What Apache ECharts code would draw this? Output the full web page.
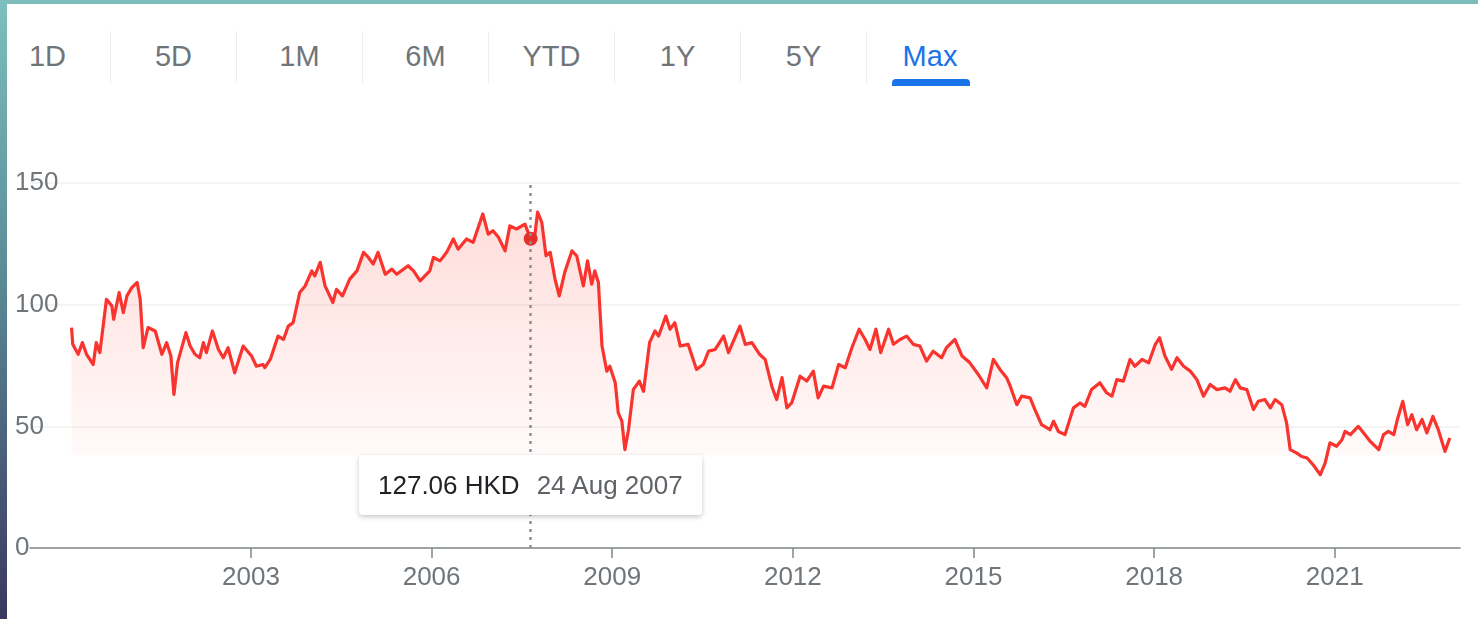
<!DOCTYPE html>
<html>
<head>
<meta charset="utf-8">
<script src="https://cdn.jsdelivr.net/npm/echarts@6/dist/echarts.min.js"></script>
<style>
    html, body {
        margin: 0;
        padding: 0;
        width: 1478px;
        height: 619px;
        overflow: hidden;
        font-family: Arial, "Liberation Sans", sans-serif;
    }
    body {
        background: linear-gradient(180deg, #7dbfbe 0%, #5a8a96 45%, #3b3760 100%);
        position: relative;
    }
    .topStrip {
        position: absolute;
        left: 0;
        top: 0;
        width: 1478px;
        height: 4px;
        background-color: #7dbdbc;
    }
    .panel {
        position: absolute;
        left: 7px;
        top: 4px;
        right: 0;
        bottom: 0;
        background-color: #ffffff;
    }
    .tabs {
        position: absolute;
        left: -22px;
        top: 27px;
        display: flex;
    }
    .tab {
        position: relative;
        width: 126px;
        height: 52px;
        line-height: 50px;
        text-align: center;
        font-size: 29px;
        color: #70757a;
        border-right: 1px solid #ededed;
        box-sizing: border-box;
    }
    .tab:last-child {
        border-right: none;
    }
    .tab.active {
        color: #1a73e8;
    }
    .tab.active::after {
        content: "";
        position: absolute;
        left: 25px;
        width: 78px;
        bottom: -3px;
        height: 7px;
        background-color: #1a73e8;
        border-radius: 4px 4px 0 0;
    }
    #chart {
        position: absolute;
        left: 0;
        top: 0;
        width: 1478px;
        height: 619px;
    }
</style>
</head>
<body>
<div class="topStrip"></div>
<div class="panel">
    <div class="tabs" id="tabs"></div>
</div>
<div id="chart"></div>

<script>
    // range buttons
    const ranges = ['1D', '5D', '1M', '6M', 'YTD', '1Y', '5Y', 'Max'];
    const activeRange = 'Max';

    // x labels (years) and y ticks
    const yearLabels = [2003, 2006, 2009, 2012, 2015, 2018, 2021];
    const priceTicks = [0, 50, 100, 150];

    // price history (decimal year, HKD)
    const years = [2000.02,2000.04,2000.13,2000.20,2000.27,2000.38,2000.43,2000.49,2000.60,2000.69,
        2000.72,2000.81,2000.88,2000.94,2001.02,2001.11,2001.16,2001.21,2001.29,2001.41,
        2001.52,2001.60,2001.67,2001.72,2001.78,2001.92,2001.99,2002.07,2002.15,2002.21,
        2002.26,2002.36,2002.46,2002.54,2002.62,2002.73,2002.87,2003.01,2003.09,2003.20,
        2003.23,2003.32,2003.45,2003.54,2003.62,2003.70,2003.81,2003.90,2004.01,2004.06,
        2004.15,2004.23,2004.36,2004.42,2004.52,2004.64,2004.76,2004.87,2004.95,2005.03,
        2005.11,2005.23,2005.34,2005.42,2005.61,2005.70,2005.81,2005.97,2006.03,2006.14,
        2006.25,2006.36,2006.44,2006.58,2006.69,2006.85,2006.94,2007.02,2007.11,2007.22,
        2007.30,2007.41,2007.55,2007.645,2007.71,2007.76,2007.83,2007.90,2007.97,2008.05,
        2008.12,2008.21,2008.33,2008.41,2008.52,2008.59,2008.66,2008.71,2008.77,2008.83,
        2008.91,2008.96,2009.05,2009.10,2009.16,2009.21,2009.27,2009.35,2009.45,2009.52,
        2009.62,2009.71,2009.77,2009.89,2009.96,2010.04,2010.13,2010.26,2010.40,2010.51,
        2010.60,2010.71,2010.85,2010.93,2011.12,2011.21,2011.32,2011.45,2011.54,2011.65,
        2011.73,2011.82,2011.90,2011.98,2012.12,2012.23,2012.34,2012.42,2012.51,2012.65,
        2012.76,2012.87,2012.98,2013.10,2013.20,2013.28,2013.38,2013.46,2013.59,2013.67,
        2013.78,2013.89,2014.00,2014.11,2014.22,2014.33,2014.47,2014.55,2014.69,2014.81,
        2014.94,2015.08,2015.22,2015.33,2015.44,2015.55,2015.61,2015.72,2015.80,2015.94,
        2016.02,2016.13,2016.27,2016.33,2016.41,2016.52,2016.66,2016.77,2016.85,2016.96,
        2017.10,2017.21,2017.30,2017.38,2017.49,2017.60,2017.68,2017.80,2017.91,2018.02,
        2018.09,2018.18,2018.29,2018.38,2018.49,2018.60,2018.71,2018.82,2018.93,2019.04,
        2019.18,2019.26,2019.35,2019.43,2019.54,2019.65,2019.73,2019.84,2019.93,2020.01,
        2020.12,2020.20,2020.26,2020.37,2020.45,2020.54,2020.64,2020.76,2020.84,2020.92,
        2021.03,2021.12,2021.17,2021.26,2021.39,2021.48,2021.59,2021.73,2021.81,2021.89,
        2021.98,2022.04,2022.13,2022.21,2022.28,2022.36,2022.45,2022.53,2022.63,2022.72,
        2022.83,2022.91];
    const prices = [90.6,83.7,79.6,84.4,79.6,75.4,84.4,80.3,102.2,99.5,
        94,105,96.7,103.6,107,109.1,102.2,82.3,90.6,89.2,
        79.6,84.4,78.9,63.1,76.1,88.5,83,79.6,78.2,84.4,
        80.3,89.2,81.6,78.2,82.3,72,83,78.9,74.7,75.4,
        74.1,77.5,87.1,85.7,91.2,92.6,105,107.7,113.9,111.8,
        117.4,107.7,100.9,106.3,103.6,110.5,113.9,121.5,119.4,116.7,
        121.5,112.5,114.6,112.5,116,113.9,109.8,113.9,119.4,118,
        121.5,127,122.8,127,125.6,137.3,129,130.4,127.7,122.1,
        132.4,131.1,133.1,127.06,127.7,138,133.8,120.1,121.5,110.5,
        103.6,113.2,122.1,120.1,107.7,118,108.4,113.9,109.1,83,
        72.7,74.7,67.9,55.5,52.1,40.4,48.6,65.1,68.6,64.4,
        84.4,89.2,87.1,95.3,89.9,92.6,83,83.7,73.4,75.4,
        80.9,81.6,87.1,80.3,91.2,83.7,84.4,79.5,77.5,66.5,
        61,70,57.6,59.6,70.6,68.6,72.7,61.7,66.5,65.8,
        75.4,74.1,82.3,89.9,85.7,81.6,89.9,80.3,89.9,83.7,
        85.7,87.1,83.7,83,76.8,80.9,78.2,82.3,85.7,78.9,
        76.1,71.3,65.8,77.5,73.4,70,66.5,58.9,62.4,61.7,
        56.9,50.7,48.6,52.1,47.9,46.6,57.6,59.6,58.2,65.1,
        67.9,63.8,62.4,69.2,68.6,77.5,74.7,77.5,76.1,83.7,
        86.4,78.9,73.4,78.2,74.7,72.7,69.2,62.4,67.2,65.1,
        65.8,64.4,69.2,65.8,65.1,56.9,60.3,61,57.6,61,
        58.9,51.4,40.4,39,37.6,37,34.2,30.1,34.9,43.2,
        41.8,44.5,47.9,46.6,50,47.3,43.8,40.4,46.6,47.9,
        46.6,52.8,60.3,50.7,54.8,48.6,52.8,47.3,54.1,48.6,
        39.7,45.2];

    // hovered point shown in the picture
    const hoverYear = 2007.645;
    const currency = 'HKD';
    const months = ['Jan','Feb','Mar','Apr','May','Jun','Jul','Aug','Sep','Oct','Nov','Dec'];

    const tabsEl = document.getElementById('tabs');
    ranges.forEach(r => {
        const d = document.createElement('div');
        d.className = 'tab' + (r === activeRange ? ' active' : '');
        d.textContent = r;
        tabsEl.appendChild(d);
    });

    const fmtDate = (yr) => {
        const y = Math.floor(yr);
        const dt = new Date(Date.UTC(y, 0, 1) + (yr - y) * 365 * 86400000);
        return dt.getUTCDate() + ' ' + months[dt.getUTCMonth()] + ' ' + dt.getUTCFullYear();
    };

    const seriesData = years.map((t, i) => [t, prices[i]]);
    const hoverIdx = years.indexOf(hoverYear);

    var dom = document.getElementById('chart');
    var myChart = echarts.init(dom, null, { renderer: 'canvas' });
    var option = {
        animation: false,
        backgroundColor: 'transparent',
        grid: {
            left: 30,
            right: 18,
            top: 183,
            bottom: 71
        },
        tooltip: {
            trigger: 'axis',
            alwaysShowContent: true,
            transitionDuration: 0,
            backgroundColor: '#ffffff',
            borderWidth: 0,
            borderRadius: 4,
            padding: [16, 19],
            extraCssText: 'box-shadow: 0 2px 5px rgba(0,0,0,0.22);',
            textStyle: {
                fontFamily: 'Arial',
                fontSize: 26,
                lineHeight: 28
            },
            axisPointer: {
                type: 'line',
                snap: true,
                label: { show: false },
                lineStyle: {
                    color: '#8d9196',
                    width: 2.5,
                    type: [3, 5]
                }
            },
            position: function (point, params, el, rect, size) {
                return [point[0] - size.contentSize[0] / 2, 455];
            },
            formatter: function (params) {
                const p = params[0];
                return '<span style="color:#202124">' + p.value[1].toFixed(2) + ' ' + currency + '</span>' +
                    '<span style="color:#5f6368;margin-left:17px">' + fmtDate(p.value[0]) + '</span>';
            }
        },
        xAxis: {
            type: 'value',
            min: 1999.33,
            max: 2023.08,
            splitLine: { show: false },
            axisLine: {
                show: true,
                lineStyle: { color: '#80868b', width: 1.5 }
            },
            axisTick: {
                show: true,
                length: 10,
                customValues: yearLabels,
                lineStyle: { color: '#80868b', width: 1.5 }
            },
            axisLabel: {
                customValues: yearLabels,
                margin: 17,
                fontSize: 26,
                fontFamily: 'Arial',
                color: '#70757a',
                formatter: v => String(v)
            }
        },
        yAxis: {
            type: 'value',
            min: priceTicks[0],
            max: priceTicks[priceTicks.length - 1],
            interval: 50,
            axisLine: { show: false },
            axisTick: { show: false },
            axisLabel: {
                align: 'left',
                margin: 15,
                fontSize: 26,
                fontFamily: 'Arial',
                color: '#70757a'
            },
            splitLine: {
                lineStyle: { color: '#f1f1f1', width: 1.5 }
            }
        },
        series: [{
            type: 'line',
            data: seriesData,
            showSymbol: false,
            symbol: 'circle',
            symbolSize: 14,
            itemStyle: { color: '#e3302a' },
            lineStyle: { color: '#e3302a', width: 3.2, join: 'round' },
            emphasis: {
                scale: false,
                lineStyle: { width: 3.2 }
            },
            areaStyle: {
                origin: 38,
                color: new echarts.graphic.LinearGradient(0, 0, 0, 1, [
                    { offset: 0, color: 'rgba(234,67,53,0.27)' },
                    { offset: 1, color: 'rgba(234,67,53,0.02)' }
                ])
            }
        }]
    };
    myChart.setOption(option);
    myChart.dispatchAction({ type: 'showTip', seriesIndex: 0, dataIndex: hoverIdx });
</script>
</body>
</html>
